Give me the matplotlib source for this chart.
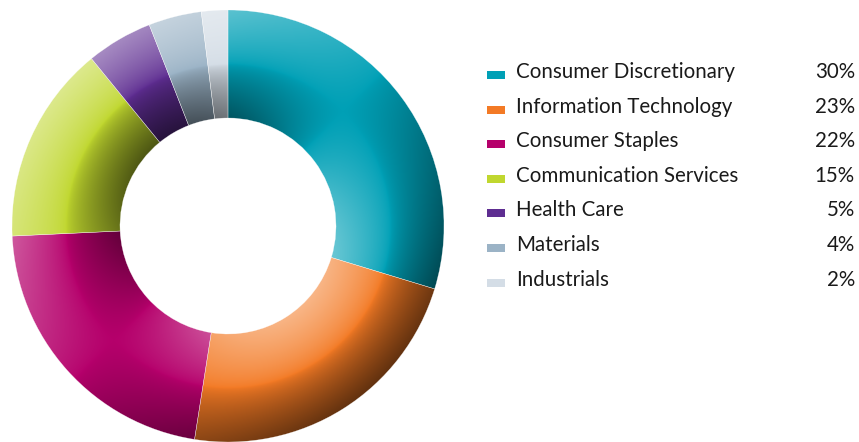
import matplotlib
matplotlib.use('Agg')
import matplotlib.pyplot as plt
from matplotlib.colors import to_rgb
import numpy as np

#### plot settings
plt.rcParams['font.family'] = ['Lato', 'DejaVu Sans']
textsize = 14.8
textcolor = '#1a1a1a'
######

sectors = ['Consumer Discretionary', 'Information Technology', 'Consumer Staples',
           'Communication Services', 'Health Care', 'Materials', 'Industrials']
weights = [30, 23, 22, 15, 5, 4, 2]
colors = ['#00a0b6', '#f37a25', '#b5006b', '#c0d72f', '#5e2d91', '#9bb3c6', '#d4dde6']

W, H = 859, 442
fig = plt.figure(figsize=(W / 100, H / 100), dpi=100)

# donut
ax = fig.add_axes([(228 - 216) / W, (H - 226 - 216) / H, 432 / W, 432 / H])
wedges, _ = ax.pie(weights, colors=colors, startangle=90, counterclock=False,
                   radius=1.0, wedgeprops=dict(width=0.5, linewidth=0))
ax.set_xlim(-1, 1)
ax.set_ylim(-1, 1)
ax.set_aspect('equal')
ax.axis('off')

# lighting from upper left: outer side facing light gets lighter, far side darker
n = 700
xx, yy = np.meshgrid(np.linspace(-1, 1, n), np.linspace(1, -1, n))
rr = np.hypot(xx, yy)
th = np.arctan2(yy, xx)
t = np.clip((rr - 0.75) / 0.25, -1, 1)
s = t * np.cos(th - np.deg2rad(135))
s = np.sign(s) * np.abs(s) ** 0.7

for w, col in zip(wedges, colors):
    base = np.array(to_rgb(col))
    img = np.empty((n, n, 3))
    light = np.clip(s, 0, 1)[..., None] * 0.45
    dark = np.clip(-s, 0, 1)[..., None] * 0.6
    img[:] = base
    img = img * (1 - light) + light
    img = img * (1 - dark)
    im = ax.imshow(img, extent=[-1, 1, -1, 1], interpolation='bilinear', zorder=1)
    im.set_clip_path(w)
    w.set_facecolor('none')
    w.set_edgecolor((1, 1, 1, 0.6))
    w.set_linewidth(0.3)
    w.set_zorder(2)

# legend
y0 = 71
dy = 34.6
for i, (name, val, col) in enumerate(zip(sectors, weights, colors)):
    yc = y0 + i * dy
    fig.patches.append(plt.Rectangle((487 / W, 1 - (yc + 8) / H), 18 / W, 8 / H,
                                     transform=fig.transFigure, facecolor=col,
                                     edgecolor='none'))
    fig.text(516 / W, 1 - (yc + 7) / H, name, fontsize=textsize, color=textcolor,
             ha='left', va='baseline')
    fig.text(855 / W, 1 - (yc + 7) / H, '{}%'.format(val), fontsize=textsize,
             color=textcolor, ha='right', va='baseline')

fig.savefig('out.png', dpi=100)
